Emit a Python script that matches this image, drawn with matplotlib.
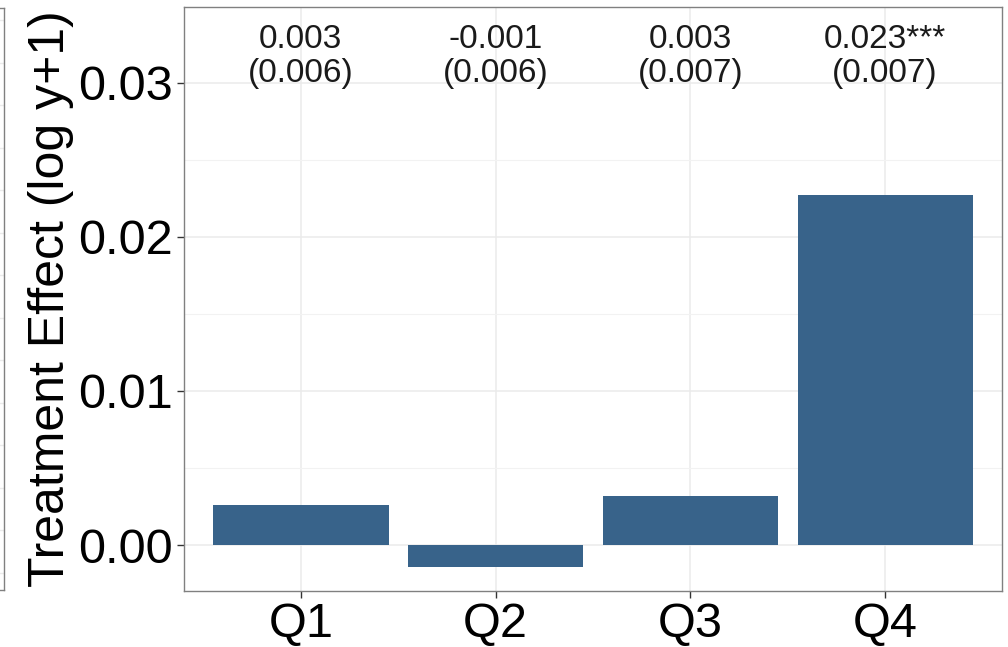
import matplotlib.pyplot as plt
import numpy as np

plt.rcParams['font.family'] = ['Liberation Sans', 'DejaVu Sans']

quarters = ['Q1', 'Q2', 'Q3', 'Q4']
effects = [0.0026, -0.0014, 0.0032, 0.0227]
coef_labels = ['0.003', '-0.001', '0.003', '0.023***']
se_labels = ['(0.006)', '(0.006)', '(0.007)', '(0.007)']

W, H = 1008, 647
fig = plt.figure(figsize=(W / 100, H / 100), dpi=100)

# piece of the neighbouring panel at the left edge
ax0 = fig.add_axes([-0.1, (H - 590) / H, 0.1 + 3.5 / W, (590 - 8) / H])
ax0.set_ylim(0, 582)
ax0.set_yticks(np.arange(570, 0, -42.5))
ax0.yaxis.grid(True, color='#EBEBEB', lw=1)
ax0.set_xticks([])
ax0.tick_params(left=False, labelleft=False)
for s in ax0.spines.values():
    s.set_color('#808080')
    s.set_linewidth(1)

ax = fig.add_axes([184 / W, (H - 591) / H, (1002 - 184) / W, (591 - 7) / H])
x = np.arange(1, len(quarters) + 1)
ax.bar(x, effects, width=0.9, color='#38638A', zorder=3)

ax.set_xlim(0.4, 4.6)
ax.set_ylim(-0.00298, 0.0349)
ax.set_xticks(x)
ax.set_xticklabels(quarters)
ax.set_yticks([0.0, 0.01, 0.02, 0.03])
ax.set_yticklabels(['0.00', '0.01', '0.02', '0.03'])
ax.set_yticks([0.005, 0.015, 0.025], minor=True)
ax.grid(True, which='major', color='#EBEBEB', lw=1.1, zorder=0)
ax.grid(True, which='minor', axis='y', color='#F2F2F2', lw=0.8, zorder=0)
ax.tick_params(which='minor', length=0)
ax.tick_params(which='major', labelsize=35, color='#333333', length=5, width=1)
ax.tick_params(axis='x', pad=3)
ax.tick_params(axis='y', pad=3)
for s in ax.spines.values():
    s.set_color('#808080')
    s.set_linewidth(1)

ax.set_ylabel('Treatment Effect (log y+1)', fontsize=36, labelpad=3)

for xi, c, se in zip(x, coef_labels, se_labels):
    ax.text(xi, 0.0317, c + '\n' + se, ha='center', va='center',
            fontsize=24, linespacing=1.1, color='#1A1A1A', zorder=4)

fig.savefig('out.png', dpi=100)
